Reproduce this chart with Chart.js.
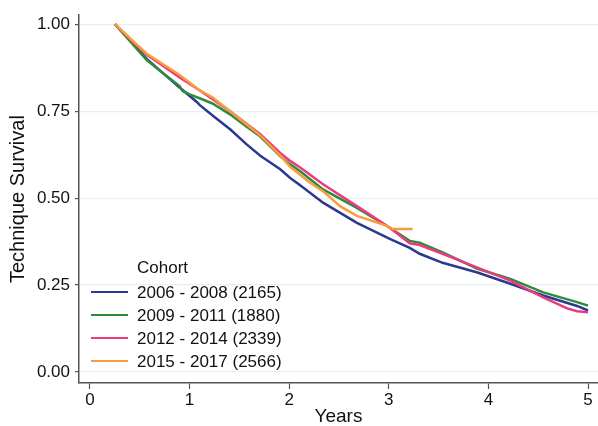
<!DOCTYPE html>
<html>
<head>
<meta charset="utf-8">
<script src="https://cdn.jsdelivr.net/npm/chart.js@4/dist/chart.umd.min.js"></script>
<style>
html,body{margin:0;padding:0;background:#fff;}
#wrap{width:598px;height:426px;position:relative;}
</style>
</head>
<body>
<div id="wrap"><canvas id="c" width="598" height="426"></canvas></div>
<script>
const seriesLabels = ["2006 - 2008 (2165)", "2009 - 2011 (1880)", "2012 - 2014 (2339)", "2015 - 2017 (2566)"];
const legendTitle = "Cohort";
const xTicks = [0, 1, 2, 3, 4, 5];
const yTicks = [0, 0.25, 0.5, 0.75, 1];

const t2006 = [0.25,0.40,0.57,0.75,0.90,1.07,1.10,1.25,1.41,1.57,1.71,1.91,2.01,2.11,2.34,2.68,3.01,3.21,3.31,3.54,3.89,4.22,4.55,4.89,5.0];
const s2006 = [1.0,0.955,0.90,0.855,0.818,0.777,0.768,0.733,0.697,0.655,0.622,0.583,0.558,0.537,0.487,0.429,0.383,0.357,0.34,0.314,0.286,0.254,0.22,0.19,0.177];

const t2009 = [0.25,0.40,0.57,0.75,0.90,0.93,1.0,1.10,1.23,1.41,1.57,1.71,1.91,2.01,2.11,2.34,2.68,3.01,3.21,3.31,3.54,3.89,4.22,4.55,4.89,5.0];
const s2009 = [1.0,0.952,0.897,0.855,0.822,0.808,0.798,0.787,0.772,0.74,0.706,0.677,0.62,0.597,0.577,0.525,0.472,0.415,0.377,0.372,0.344,0.297,0.268,0.229,0.201,0.191];

const t2012 = [0.25,0.40,0.57,0.75,0.90,1.10,1.41,1.71,1.91,2.01,2.11,2.34,2.68,3.01,3.21,3.31,3.54,3.89,4.22,4.55,4.79,4.89,5.0];
const s2012 = [1.0,0.958,0.912,0.877,0.847,0.81,0.749,0.684,0.63,0.607,0.588,0.54,0.477,0.415,0.37,0.365,0.34,0.30,0.263,0.215,0.183,0.175,0.172];

const t2015 = [0.25,0.40,0.57,0.75,0.90,1.10,1.23,1.41,1.71,1.91,2.01,2.11,2.21,2.34,2.51,2.68,2.84,2.98,3.04,3.24];
const s2015 = [1.0,0.96,0.915,0.882,0.854,0.81,0.79,0.749,0.68,0.622,0.59,0.567,0.544,0.52,0.477,0.449,0.434,0.42,0.411,0.411];

const colors = ["#2b3990", "#2e8b3e", "#ec3a7c", "#f89c3c"];
const drawOrder = [3, 2, 1, 0];

const toPts = (t, s) => t.map((v, i) => ({x: v, y: s[i]}));
const allT = [t2006, t2009, t2012, t2015];
const allS = [s2006, s2009, s2012, s2015];

const datasets = seriesLabels.map((lab, i) => ({
  label: lab,
  data: toPts(allT[i], allS[i]),
  borderColor: colors[i],
  backgroundColor: colors[i],
  borderWidth: 2.5,
  pointRadius: 0,
  tension: 0,
  fill: false,
  order: drawOrder[i]
}));
const FONT = "'Liberation Sans', Arial, sans-serif";

const legendPlugin = {
  id: 'innerLegend',
  afterDatasetsDraw(chart) {
    const ctx = chart.ctx;
    ctx.save();
    ctx.font = "17px " + FONT;
    ctx.fillStyle = "#111";
    ctx.textBaseline = "middle";
    ctx.textAlign = "left";
    ctx.fillText(legendTitle, 137, 268);
    chart.data.datasets.forEach((ds, i) => {
      const y = 292 + i * 23;
      ctx.strokeStyle = ds.borderColor;
      ctx.lineWidth = 2;
      ctx.beginPath();
      ctx.moveTo(91, y);
      ctx.lineTo(128, y);
      ctx.stroke();
      ctx.fillStyle = "#111";
      ctx.fillText(ds.label, 137, y + 1);
    });
    ctx.restore();
  }
};

new Chart(document.getElementById('c'), {
  type: 'line',
  data: { datasets },
  options: {
    responsive: false,
    animation: false,
    layout: { padding: { left: 0, right: 0, top: 13, bottom: 0 } },
    plugins: { legend: { display: false }, tooltip: { enabled: false } },
    scales: {
      x: {
        type: 'linear',
        min: -0.11, max: 5.1,
        afterBuildTicks: s => { s.ticks = xTicks.map(v => ({value: v})); },
        afterFit: s => { s.height = 43; },
        ticks: { color: '#111', font: { size: 17, family: FONT }, padding: 1, maxRotation: 0,
                 callback: v => String(v) },
        grid: { drawOnChartArea: false, drawTicks: true, tickLength: 6, tickColor: '#555', tickWidth: 1.2 },
        border: { color: '#555', width: 1.5 },
        title: { display: true, text: 'Years', color: '#111', font: { size: 19, family: FONT }, padding: { top: 0, bottom: -2 } }
      },
      y: {
        type: 'linear',
        min: -0.0314, max: 1.0257,
        afterBuildTicks: s => { s.ticks = yTicks.map(v => ({value: v})); },
        afterFit: s => { s.width = 79; },
        ticks: { color: '#111', font: { size: 17, family: FONT }, padding: 5,
                 callback: v => Number(v).toFixed(2) },
        grid: { color: '#e8eff3', lineWidth: 1.2, drawTicks: true, tickLength: 4, tickColor: '#555', tickWidth: 1.2 },
        border: { color: '#555', width: 1.5 },
        title: { display: true, text: 'Technique Survival', color: '#111', font: { size: 20, family: FONT }, padding: { top: 6, bottom: 0 } }
      }
    }
  },
  plugins: [legendPlugin]
});
</script>
</body>
</html>
